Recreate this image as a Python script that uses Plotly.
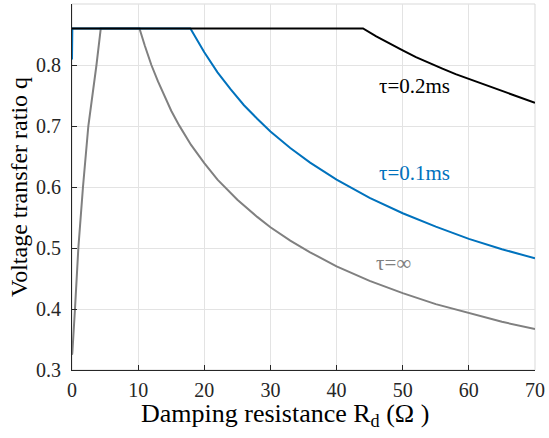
import plotly.graph_objects as go

# tau = 0.2 ms (black)
r_02 = [0, 10, 20, 30, 40, 44, 46, 48, 50, 52, 54, 56, 58, 60, 62, 64, 66, 68, 70]
q_02 = [0.86, 0.86, 0.86, 0.86, 0.86, 0.86, 0.847, 0.835, 0.824, 0.813, 0.803, 0.794, 0.785, 0.777,
        0.769, 0.761, 0.753, 0.745, 0.738]

# tau = 0.1 ms (blue)
r_01 = [0, 0.05, 5, 10, 17.9, 20, 22, 24, 26, 28, 30, 33, 36, 40, 45, 50, 55, 60, 65, 70]
q_01 = [0.809, 0.86, 0.86, 0.86, 0.86, 0.821, 0.788, 0.760, 0.734, 0.712, 0.691, 0.664, 0.640, 0.612,
        0.582, 0.557, 0.535, 0.515, 0.498, 0.483]

# tau = infinity (gray)
r_inf = [0, 0.05, 0.45, 0.96, 1.66, 2.47, 3.7, 4.35, 7, 10.2, 11, 12, 13, 14, 15, 16.2, 18, 20, 22, 25,
         28, 30, 33, 36, 40, 45, 50, 55, 60, 65, 70]
q_inf = [0.325, 0.328, 0.40, 0.50, 0.60, 0.70, 0.80, 0.86, 0.86, 0.86, 0.832, 0.800, 0.773, 0.748, 0.725,
         0.701, 0.669, 0.639, 0.612, 0.579, 0.551, 0.534, 0.512, 0.493, 0.470, 0.446, 0.426, 0.408, 0.393,
         0.379, 0.367]

labels = ["τ=0.2ms", "τ=0.1ms", "τ=∞"]
label_x = [51.8, 51.8, 48.6]
label_y = [0.766, 0.623, 0.476]
colors = ["#000000", "#0072BD", "#808080"]

x_ticks = [0, 10, 20, 30, 40, 50, 60, 70]
y_ticks = [0.3, 0.4, 0.5, 0.6, 0.7, 0.8]

x_title = "Damping resistance R<sub>d</sub> (Ω )"
y_title = "Voltage transfer ratio q"

FONT = "Liberation Serif"

fig = go.Figure()
for rr, qq, c in [(r_inf, q_inf, colors[2]), (r_01, q_01, colors[1]), (r_02, q_02, colors[0])]:
    fig.add_trace(go.Scatter(x=rr, y=qq, mode="lines", line=dict(color=c, width=2),
                             showlegend=False, hoverinfo="skip"))

for t, x, y, c in zip(labels, label_x, label_y, colors):
    fig.add_annotation(x=x, y=y, text=t, showarrow=False, font=dict(family=FONT, size=21, color=c),
                       xanchor="center", yanchor="middle")

# x-axis title (placed slightly left of centre, as in the reference)
fig.add_annotation(x=0.46, y=-0.123, xref="paper", yref="paper", text=x_title, showarrow=False,
                   font=dict(family=FONT, size=26, color="black"), xanchor="center", yanchor="middle")

fig.add_shape(type="rect", xref="paper", yref="paper", x0=0, y0=0, x1=1, y1=1,
              line=dict(color="#d9d9d9", width=1), layer="below")

fig.update_layout(
    width=549, height=438,
    margin=dict(l=72, r=12, t=4, b=68),
    paper_bgcolor="white", plot_bgcolor="white",
    font=dict(family=FONT, size=20, color="#262626"),
    xaxis=dict(range=[0, 70], tickvals=x_ticks, showgrid=True, gridcolor="#e3e3e3", gridwidth=1,
               showline=True, linecolor="#262626", linewidth=1.2, ticks="inside", ticklen=5,
               tickcolor="#262626", zeroline=False, ticklabelstandoff=2,
               tickfont=dict(family=FONT, size=20, color="#262626")),
    yaxis=dict(range=[0.3, 0.9], tickvals=y_ticks, tickformat=".1f", showgrid=True, gridcolor="#e3e3e3",
               gridwidth=1, showline=True, linecolor="#262626", linewidth=1.2, ticks="inside", ticklen=5,
               tickcolor="#262626", zeroline=False, ticklabelstandoff=6,
               tickfont=dict(family=FONT, size=20, color="#262626"),
               title=dict(text=y_title, font=dict(family=FONT, size=24, color="black"), standoff=1)),
)

fig.write_html("out.html")
